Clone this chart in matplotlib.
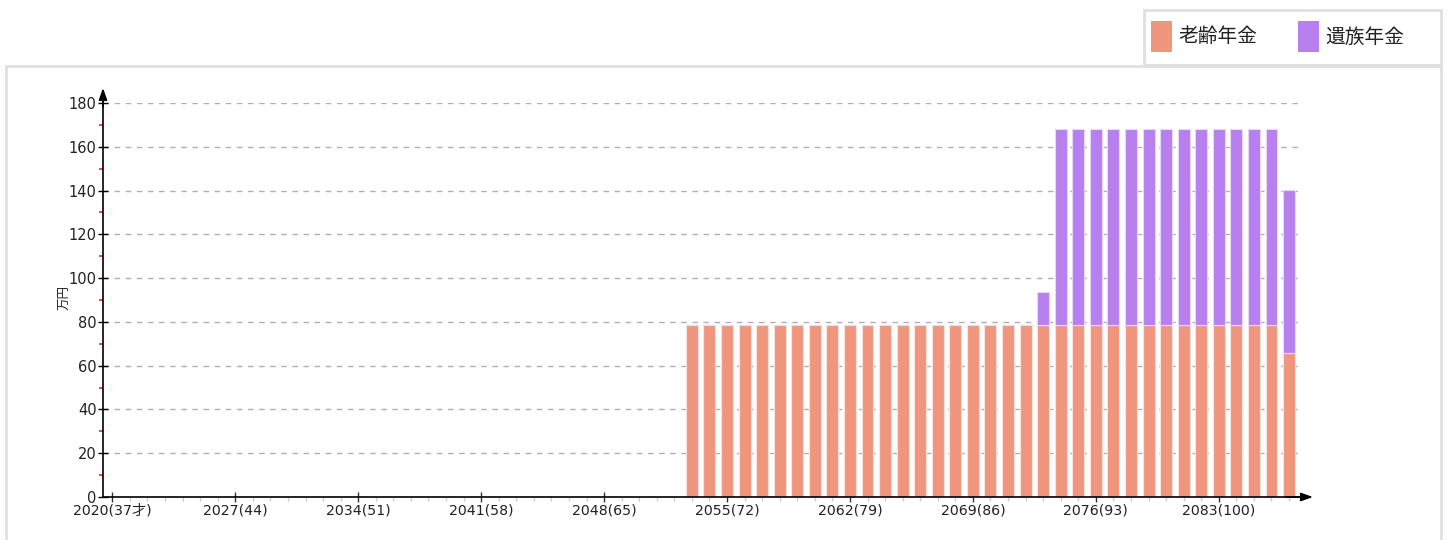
import matplotlib
matplotlib.use("Agg")
import matplotlib.pyplot as plt
from matplotlib.patches import Rectangle
from matplotlib.ticker import FixedLocator

plt.rcParams['font.family'] = ['DejaVu Sans', 'Noto Sans CJK JP']

# ---- data ----
years = [2053, 2054, 2055, 2056, 2057, 2058, 2059, 2060, 2061, 2062,
         2063, 2064, 2065, 2066, 2067, 2068, 2069, 2070, 2071, 2072,
         2073, 2074, 2075, 2076, 2077, 2078, 2079, 2080, 2081, 2082,
         2083, 2084, 2085, 2086, 2087]
old_age = [78.7, 78.7, 78.7, 78.7, 78.7, 78.7, 78.7, 78.7, 78.7, 78.7,
           78.7, 78.7, 78.7, 78.7, 78.7, 78.7, 78.7, 78.7, 78.7, 78.7,
           78.7, 78.7, 78.7, 78.7, 78.7, 78.7, 78.7, 78.7, 78.7, 78.7,
           78.7, 78.7, 78.7, 78.7, 65.6]
survivor = [0, 0, 0, 0, 0, 0, 0, 0, 0, 0,
            0, 0, 0, 0, 0, 0, 0, 0, 0, 0,
            14.9, 89.4, 89.4, 89.4, 89.4, 89.4, 89.4, 89.4, 89.4, 89.4,
            89.4, 89.4, 89.4, 89.4, 74.6]
tick_years = [2020, 2027, 2034, 2041, 2048, 2055, 2062, 2069, 2076, 2083]
tick_labels = ['2020(37才)', '2027(44)', '2034(51)', '2041(58)', '2048(65)',
               '2055(72)', '2062(79)', '2069(86)', '2076(93)', '2083(100)']
series_names = ['老齢年金', '遺族年金']
colors = ['#F0957E', '#B880EE']
y_ticks = [0, 20, 40, 60, 80, 100, 120, 140, 160, 180]
y_minor = [10, 30, 50, 70, 90, 110, 130, 150, 170]

W, H = 1450, 540
fig = plt.figure(figsize=(W / 100, H / 100), dpi=100)

# outer frame
fig.patches.append(Rectangle((6 / W, -0.05), (1441 - 6) / W, (H - 66) / H + 0.05,
                             transform=fig.transFigure, fill=False,
                             edgecolor='#e0e0e0', linewidth=2))

ax = fig.add_axes([103 / W, (H - 497) / H, (1298 - 103) / W, (497 - 103) / H])
ax.set_xlim(2019.47, 2087.51)
ax.set_ylim(0, 180)

ax.bar(years, old_age, width=0.68, color=colors[0], edgecolor='#fbe3dc',
       linewidth=0.8, zorder=3)
ax.bar(years, survivor, width=0.68, bottom=old_age, color=colors[1],
       edgecolor='#e8d6fb', linewidth=0.8, zorder=3)

for y in y_ticks:
    ax.axhline(y, color='#b0b0b0', linestyle=(0, (4, 4)), linewidth=1, zorder=1)

for s in ['top', 'right', 'left', 'bottom']:
    ax.spines[s].set_visible(False)

# axis lines with arrows
ax.plot([2019.47, 2087.9], [0, 0], color='black', lw=1.2, clip_on=False, zorder=4)
ax.plot([2019.47, 2019.47], [0, 183], color='black', lw=1.2, clip_on=False, zorder=4)
ax.annotate('', xy=(1.0125, 0), xytext=(0.99, 0), xycoords='axes fraction',
            arrowprops=dict(arrowstyle='-|>,head_length=0.7,head_width=0.25',
                            color='black', lw=1.2, shrinkA=0, shrinkB=0))
ax.annotate('', xy=(0, 1.038), xytext=(0, 0.99), xycoords='axes fraction',
            arrowprops=dict(arrowstyle='-|>,head_length=0.7,head_width=0.25',
                            color='black', lw=1.2, shrinkA=0, shrinkB=0))

# y ticks
ax.set_yticks(y_ticks)
ax.tick_params(axis='y', direction='inout', length=7, width=1, color='black',
               labelsize=10.5, labelcolor='#222222', pad=1)
ax.yaxis.set_minor_locator(FixedLocator(y_minor))
ax.tick_params(axis='y', which='minor', direction='out', length=3, width=1.3,
               color='#ff3333')

# x ticks
ax.set_xticks(tick_years)
ax.set_xticklabels(tick_labels)
ax.tick_params(axis='x', direction='inout', length=7, width=1, color='#333333',
               labelsize=10.2, labelcolor='#222222', pad=1)
ax.xaxis.set_minor_locator(FixedLocator(list(range(2020, 2088))))
ax.tick_params(axis='x', which='minor', direction='out', length=3, width=1,
               color='#cccccc')

fig.text(65 / W, 1 - 297 / H, '万円', rotation=90, fontsize=9,
         family=['Noto Sans CJK JP'], ha='center', va='center', color='#222222')

# legend box
fig.patches.append(Rectangle((1144 / W, 1 - 65 / H), (1441 - 1144) / W, 55 / H,
                             transform=fig.transFigure, facecolor='white',
                             edgecolor='#e0e0e0', linewidth=2))
leg_x = [1151, 1298]
for i in range(2):
    fig.patches.append(Rectangle((leg_x[i] / W, 1 - 52 / H), 21 / W, 31 / H,
                                 transform=fig.transFigure, facecolor=colors[i],
                                 edgecolor='none'))
    fig.text((leg_x[i] + 27) / W, 1 - 37 / H, series_names[i], fontsize=14.2,
             family=['Noto Sans CJK JP'], ha='left', va='center', color='#222222')

fig.savefig('out.png', dpi=100)
